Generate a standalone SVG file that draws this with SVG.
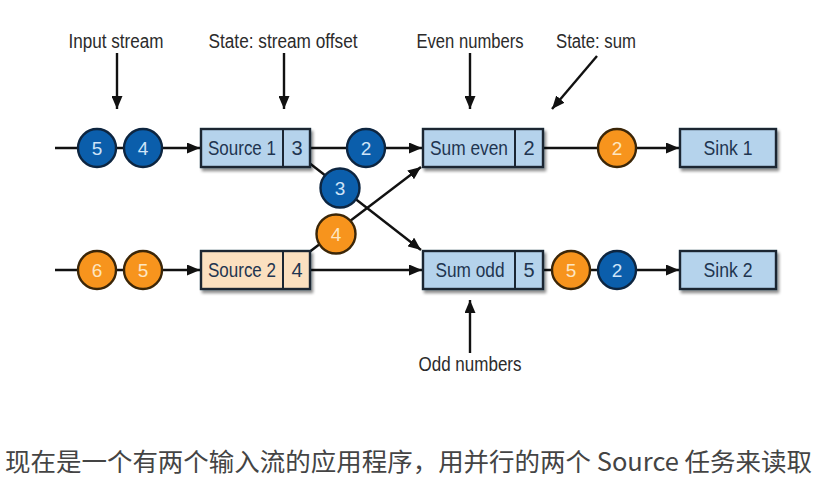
<svg xmlns="http://www.w3.org/2000/svg" width="839" height="496" viewBox="0 0 839 496">
<defs>
<marker id="ah" viewBox="0 0 13 11" refX="13" refY="5.5" markerWidth="13" markerHeight="11" markerUnits="userSpaceOnUse" orient="auto">
<path d="M0,0 L13,5.5 L0,11 Z" fill="#111"/>
</marker>
<filter id="sh" x="-10%" y="-20%" width="130%" height="160%">
<feGaussianBlur in="SourceAlpha" stdDeviation="1.5"/>
<feOffset dx="2" dy="3" result="o"/>
<feComponentTransfer><feFuncA type="linear" slope="0.45"/></feComponentTransfer>
<feMerge><feMergeNode/><feMergeNode in="SourceGraphic"/></feMerge>
</filter>
<style>
.lbl{font-family:"Liberation Sans",Arial,sans-serif;font-size:20px;fill:#2b2b2b;text-anchor:middle}
.nt{font-family:"Liberation Sans",Arial,sans-serif;font-size:20px;fill:#1f3550;text-anchor:middle}
.box{fill:#b5d3ec;stroke:#1b2633;stroke-width:2.4}
.peach{fill:#fbe0c0;stroke:#1b2633;stroke-width:2.4}
.div{stroke:#1b2633;stroke-width:2}
.bc{fill:#0b5eab;stroke:#0d2540;stroke-width:2.4}
.oc{fill:#f7941d;stroke:#3b2608;stroke-width:2.4}
.ct{font-family:"Liberation Sans",Arial,sans-serif;font-size:19px;text-anchor:middle}
.bt{fill:#cfe4f7}
.ot{fill:#fde6c2}
.ln{stroke:#111;stroke-width:2.4;fill:none}
.cap{font-family:"Noto Sans CJK SC","Noto Sans",sans-serif;font-size:25px;fill:#444444}
</style>
</defs>
<rect width="839" height="496" fill="#ffffff"/>

<g id="connectors">
<line class="ln" x1="55" y1="148" x2="200" y2="148" marker-end="url(#ah)"/>
<line class="ln" x1="55" y1="270" x2="200" y2="270" marker-end="url(#ah)"/>
<line class="ln" x1="310" y1="148" x2="422" y2="148" marker-end="url(#ah)"/>
<line class="ln" x1="310" y1="270" x2="422" y2="270" marker-end="url(#ah)"/>
<line class="ln" x1="543" y1="148" x2="679" y2="148" marker-end="url(#ah)"/>
<line class="ln" x1="543" y1="270" x2="679" y2="270" marker-end="url(#ah)"/>
<line class="ln" x1="308" y1="162" x2="421" y2="250" marker-end="url(#ah)"/>
<line class="ln" x1="308" y1="253" x2="421" y2="167" marker-end="url(#ah)"/>
<line class="ln" x1="117" y1="53" x2="117" y2="109" marker-end="url(#ah)"/>
<line class="ln" x1="284" y1="53" x2="284" y2="109" marker-end="url(#ah)"/>
<line class="ln" x1="470" y1="53" x2="470" y2="109" marker-end="url(#ah)"/>
<line class="ln" x1="597" y1="56" x2="552" y2="109" marker-end="url(#ah)"/>
<line class="ln" x1="470" y1="353" x2="470" y2="300" marker-end="url(#ah)"/>
</g>

<g id="labels">
<text class="lbl" x="116" y="48" textLength="95" lengthAdjust="spacingAndGlyphs">Input stream</text>
<text class="lbl" x="283" y="48" textLength="149" lengthAdjust="spacingAndGlyphs">State: stream offset</text>
<text class="lbl" x="470" y="48" textLength="107" lengthAdjust="spacingAndGlyphs">Even numbers</text>
<text class="lbl" x="596" y="48" textLength="80" lengthAdjust="spacingAndGlyphs">State: sum</text>
<text class="lbl" x="470" y="371" textLength="103" lengthAdjust="spacingAndGlyphs">Odd numbers</text>
</g>

<g id="source1">
<rect class="box" x="201" y="129" width="109" height="38" filter="url(#sh)"/>
<line class="div" x1="283" y1="129" x2="283" y2="167"/>
<text class="nt" x="242" y="155" textLength="68" lengthAdjust="spacingAndGlyphs">Source 1</text>
<text class="nt" x="297" y="155">3</text>
</g>
<g id="source2">
<rect class="peach" x="201" y="251" width="109" height="38" filter="url(#sh)"/>
<line class="div" x1="283" y1="251" x2="283" y2="289"/>
<text class="nt" x="242" y="277" textLength="68" lengthAdjust="spacingAndGlyphs">Source 2</text>
<text class="nt" x="297" y="277">4</text>
</g>
<g id="sumeven">
<rect class="box" x="423" y="129" width="120" height="38" filter="url(#sh)"/>
<line class="div" x1="515" y1="129" x2="515" y2="167"/>
<text class="nt" x="469" y="155" textLength="78" lengthAdjust="spacingAndGlyphs">Sum even</text>
<text class="nt" x="529" y="155">2</text>
</g>
<g id="sumodd">
<rect class="box" x="423" y="251" width="120" height="38" filter="url(#sh)"/>
<line class="div" x1="515" y1="251" x2="515" y2="289"/>
<text class="nt" x="470" y="277" textLength="69" lengthAdjust="spacingAndGlyphs">Sum odd</text>
<text class="nt" x="529" y="277">5</text>
</g>
<g id="sink1">
<rect class="box" x="680" y="129" width="96" height="38" filter="url(#sh)"/>
<text class="nt" x="728" y="155" textLength="49" lengthAdjust="spacingAndGlyphs">Sink 1</text>
</g>
<g id="sink2">
<rect class="box" x="680" y="251" width="96" height="38" filter="url(#sh)"/>
<text class="nt" x="728" y="277" textLength="49" lengthAdjust="spacingAndGlyphs">Sink 2</text>
</g>

<g id="events">
<circle class="bc" cx="97" cy="148" r="19"/><text class="ct bt" x="97" y="155">5</text>
<circle class="bc" cx="143" cy="148" r="19"/><text class="ct bt" x="143" y="155">4</text>
<circle class="oc" cx="97" cy="270" r="19"/><text class="ct ot" x="97" y="277">6</text>
<circle class="oc" cx="143" cy="270" r="19"/><text class="ct ot" x="143" y="277">5</text>
<circle class="bc" cx="366" cy="148" r="19"/><text class="ct bt" x="366" y="155">2</text>
<circle class="bc" cx="340" cy="188" r="19.5"/><text class="ct bt" x="340" y="195">3</text>
<circle class="oc" cx="336" cy="234" r="19.5"/><text class="ct ot" x="336" y="241">4</text>
<circle class="oc" cx="617" cy="148" r="19"/><text class="ct ot" x="617" y="155">2</text>
<circle class="oc" cx="571" cy="270" r="19"/><text class="ct ot" x="571" y="277">5</text>
<circle class="bc" cx="617" cy="270" r="19"/><text class="ct bt" x="617" y="277">2</text>
</g>

<text class="cap" x="5" y="471" textLength="807" lengthAdjust="spacingAndGlyphs">现在是一个有两个输入流的应用程序，用并行的两个 Source 任务来读取</text>
</svg>
